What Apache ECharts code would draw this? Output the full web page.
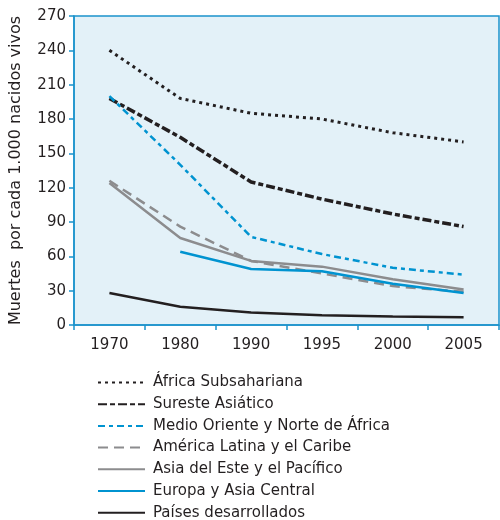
<!DOCTYPE html>
<html><head><meta charset="utf-8">
<script src="https://cdn.jsdelivr.net/npm/echarts@6/dist/echarts.min.js"></script>
<style>html,body{margin:0;padding:0;background:#fff}#c{width:500px;height:520px}</style>
</head><body><div id="c"></div>
<script>
const years = ['1970','1980','1990','1995','2000','2005'];
const africa = [240, 198, 185, 180, 168, 160];
const sureste = [198, 164, 125, 110, 97, 86];
const medioOriente = [200, 140, 77, 62, 50, 44];
const americaLatina = [126, 86, 56, 45, 34, 29];
const asiaEste = [124, 76, 56, 51, 40, 31];
const europa = [null, 64, 49, 47, 36, 28];
const desarrollados = [28, 16, 11, 8.5, 7.5, 6.7];
const names = ['África Subsahariana','Sureste Asiático','Medio Oriente y Norte de África','América Latina y el Caribe','Asia del Este y el Pacífico','Europa y Asia Central','Países desarrollados'];

const BLACK = '#231f20', BLUE = '#0093d0', GRAY = '#8c8c8e', AX = '#1b93cc';
const FONT = 'DejaVu Sans';
function s(name, data, color, type, width) {
  return { name, type: 'line', data, symbol: 'none', connectNulls: false,
    lineStyle: { color, width, type, cap: 'butt' }, itemStyle: { color } };
}
const chart = echarts.init(document.getElementById('c'), null, { renderer: 'canvas' });
chart.setOption({
  animation: false,
  grid: { left: 73, right: 1, top: 16, bottom: 195, show: true, backgroundColor: '#e3f1f8', borderColor: AX, borderWidth: 1.5 },
  xAxis: { type: 'category', data: years, boundaryGap: true,
    axisLine: { lineStyle: { color: AX, width: 1.5 } },
    axisTick: { show: true, length: 5, lineStyle: { color: AX, width: 1.5 } },
    axisLabel: { color: '#231f20', fontSize: 15, fontFamily: FONT, margin: 13 } },
  yAxis: { type: 'value', min: 0, max: 270, interval: 30,
    name: 'Muertes  por cada 1.000 nacidos vivos', nameLocation: 'middle', nameGap: 50,
    nameTextStyle: { color: '#231f20', fontSize: 16, fontFamily: FONT },
    axisLine: { show: true, lineStyle: { color: AX, width: 1.5 } },
    axisTick: { show: true, length: 5, lineStyle: { color: AX, width: 1.5 } },
    splitLine: { show: false },
    axisLabel: { color: '#231f20', fontSize: 15, fontFamily: FONT, margin: 8 } },
  legend: { orient: 'vertical', left: 92, top: 370, height: 300, itemWidth: 47, itemHeight: 14, itemGap: 6.7,
    itemStyle: { opacity: 0 },
    textStyle: { color: '#231f20', fontSize: 15, fontFamily: FONT, padding: [0,0,0,3], lineHeight: 14 },
    data: names },
  series: [
    s(names[0], africa, BLACK, [3, 4], 3),
    s(names[1], sureste, BLACK, [9, 3, 5, 3], 3.5),
    s(names[2], medioOriente, BLUE, [7, 4, 4, 4], 2.5),
    s(names[3], americaLatina, GRAY, [10, 6], 2.5),
    s(names[4], asiaEste, GRAY, 'solid', 2.5),
    s(names[5], europa, BLUE, 'solid', 2.5),
    s(names[6], desarrollados, BLACK, 'solid', 2.5)
  ]
});
</script></body></html>
